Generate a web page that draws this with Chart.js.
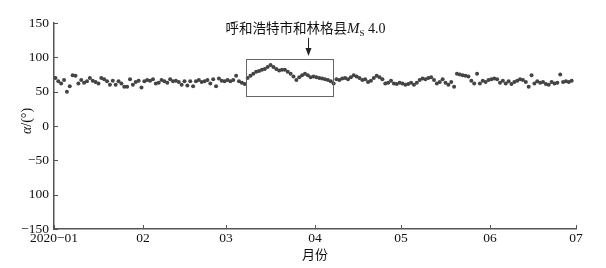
<!DOCTYPE html>
<html>
<head>
<meta charset="utf-8">
<script src="https://cdn.jsdelivr.net/npm/chart.js@4.4.0/dist/chart.umd.min.js"></script>
<style>
  html, body { margin: 0; padding: 0; background: #fff; }
  canvas { display: block; }
</style>
</head>
<body>
<canvas id="chart" width="606" height="268"></canvas>
<script>
// valores diarios de α (°), 2020-01-01 ... 2020-06-29
const janVals = [70, 65, 62, 67, 50, 58, 74, 73, 62, 67, 63, 65, 70, 66, 64, 62, 70, 68, 65, 60, 66, 60, 65, 62, 57, 57, 68, 60, 64, 66, 56];
const febVals = [65, 67, 66, 68, 62, 63, 67, 65, 63, 68, 65, 66, 64, 60, 65, 59, 65, 58, 65, 67, 64, 65, 67, 62, 68, 58, 69, 66, 65];
const marVals = [67, 65, 67, 73, 65, 63, 61, 70, 73, 76, 79, 80, 82, 83, 86, 89, 86, 83, 81, 82, 82, 79, 76, 72, 67, 71, 74, 76, 74, 71, 72];
const aprVals = [71, 70, 69, 68, 67, 65, 62, 68, 67, 69, 70, 68, 71, 74, 72, 70, 67, 68, 64, 66, 70, 73, 71, 68, 62, 63, 66, 62, 61, 63];
const mayVals = [62, 60, 61, 63, 60, 63, 67, 69, 68, 70, 71, 67, 62, 64, 68, 63, 60, 64, 57, 76, 75, 74, 73, 72, 66, 62, 76, 62, 66, 64, 67];
const junVals = [68, 69, 68, 63, 66, 62, 65, 61, 64, 66, 68, 67, 64, 57, 74, 62, 65, 63, 64, 61, 60, 64, 62, 63, 75, 64, 65, 64, 66];

const monthSeries = [janVals, febVals, marVals, aprVals, mayVals, junVals];
const monthStarts = [0, 31, 60, 91, 121, 152]; // día del año (desde 1 de enero)

// ejes
const xTickDays = [0, 31, 60, 91, 121, 152, 182];
const xTickLabels = ["2020\u221201", "02", "03", "04", "05", "06", "07"];
const yTickLabels = ["\u2212150", "100", "\u221250", "0", "50", "100", "150"];

// anotación (en unidades de datos)
const boxDays = [66.9, 97.3];
const boxVals = [44.2, 97.4];
const arrowDay = 88.6;
const arrowVals = [128.5, 102];
const noteDay = 87.7;
const noteVal = 143;

const axisColor = "#555";
const serif = "'Liberation Serif', 'DejaVu Serif', serif";
const cjk = "'Noto Sans CJK SC', sans-serif";

const points = [];
monthSeries.forEach((vals, m) => {
  vals.forEach((v, i) => points.push({ x: monthStarts[m] + i + 0.5, y: v }));
});

const extras = {
  id: "extras",
  afterDraw(chart) {
    const { ctx, scales: { x, y } } = chart;
    ctx.save();
    ctx.strokeStyle = axisColor;
    ctx.lineWidth = 1;

    // marcas hacia dentro
    xTickDays.forEach(d => {
      const px = Math.round(x.getPixelForValue(d)) + 0.5;
      ctx.beginPath();
      ctx.moveTo(px, y.bottom);
      ctx.lineTo(px, y.bottom - 4);
      ctx.stroke();
    });
    y.ticks.forEach(t => {
      const py = Math.round(y.getPixelForValue(t.value)) + 0.5;
      ctx.beginPath();
      ctx.moveTo(x.left, py);
      ctx.lineTo(x.left + 4, py);
      ctx.stroke();
    });

    // recuadro
    const bl = x.getPixelForValue(boxDays[0]);
    const br = x.getPixelForValue(boxDays[1]);
    const bt = y.getPixelForValue(boxVals[1]);
    const bb = y.getPixelForValue(boxVals[0]);
    ctx.strokeStyle = "#666";
    ctx.strokeRect(Math.round(bl) + 0.5, Math.round(bt) + 0.5, Math.round(br - bl), Math.round(bb - bt));

    // flecha
    const ax = Math.round(x.getPixelForValue(arrowDay)) + 0.5;
    const at = y.getPixelForValue(arrowVals[0]);
    const ab = y.getPixelForValue(arrowVals[1]);
    ctx.strokeStyle = "#222";
    ctx.fillStyle = "#222";
    ctx.beginPath();
    ctx.moveTo(ax, at);
    ctx.lineTo(ax, ab - 6);
    ctx.stroke();
    ctx.beginPath();
    ctx.moveTo(ax - 3, ab - 8);
    ctx.lineTo(ax + 3, ab - 8);
    ctx.lineTo(ax, ab);
    ctx.closePath();
    ctx.fill();

    // texto de la anotación
    const parts = [
      { t: "呼和浩特市和林格县", f: "13.5px " + cjk, dy: 0 },
      { t: "M", f: "italic 15px " + serif, dy: 0 },
      { t: "S", f: "9px " + serif, dy: 3 },
      { t: " 4.0", f: "14px " + serif, dy: 0 }
    ];
    let total = 0;
    parts.forEach(p => { ctx.font = p.f; p.w = ctx.measureText(p.t).width; total += p.w; });
    let tx = x.getPixelForValue(noteDay) - total / 2;
    const ty = y.getPixelForValue(noteVal) + 5;
    ctx.fillStyle = "#111";
    ctx.textBaseline = "alphabetic";
    parts.forEach(p => {
      ctx.font = p.f;
      ctx.fillText(p.t, tx, ty + p.dy);
      tx += p.w;
    });

    // título del eje y
    ctx.translate(27, 121);
    ctx.rotate(-Math.PI / 2);
    ctx.textBaseline = "middle";
    ctx.font = "italic 14px " + serif;
    const w1 = ctx.measureText("\u03b1").width;
    ctx.font = "14px " + serif;
    const w2 = ctx.measureText("/(\u00b0)").width;
    let sx = -(w1 + w2) / 2;
    ctx.font = "italic 14px " + serif;
    ctx.fillText("\u03b1", sx, 0);
    ctx.font = "14px " + serif;
    ctx.fillText("/(\u00b0)", sx + w1, 0);
    ctx.restore();
  }
};

new Chart(document.getElementById("chart"), {
  type: "scatter",
  data: {
    datasets: [{
      data: points,
      pointRadius: 2,
      pointBackgroundColor: "#444",
      pointBorderWidth: 0
    }]
  },
  options: {
    responsive: false,
    animation: false,
    devicePixelRatio: 1,
    layout: { padding: { top: 23, right: 30, left: 0, bottom: 6 } },
    plugins: { legend: { display: false }, tooltip: { enabled: false } },
    scales: {
      x: {
        type: "linear",
        min: 0,
        max: 182,
        grid: { display: false, drawTicks: false, tickLength: 0 },
        border: { display: true, color: axisColor, width: 1.5 },
        afterBuildTicks(scale) { scale.ticks = xTickDays.map(v => ({ value: v })); },
        afterFit(scale) { scale.height = 33; },
        ticks: {
          padding: 1,
          maxRotation: 0,
          autoSkip: false,
          color: "#111",
          font: { family: serif, size: 13.5 },
          callback: (v, i) => xTickLabels[i]
        },
        title: {
          display: true,
          text: "月份",
          color: "#111",
          font: { family: cjk, size: 13 },
          padding: { top: 0, bottom: 0 }
        }
      },
      y: {
        min: -150,
        max: 150,
        grid: { display: false, drawTicks: false, tickLength: 0 },
        border: { display: true, color: axisColor, width: 1.5 },
        afterFit(scale) { scale.width = 54; },
        ticks: {
          stepSize: 50,
          padding: 5,
          color: "#111",
          font: { family: serif, size: 13.5 },
          callback: (v, i) => yTickLabels[i]
        }
      }
    }
  },
  plugins: [extras]
});
</script>
</body>
</html>
